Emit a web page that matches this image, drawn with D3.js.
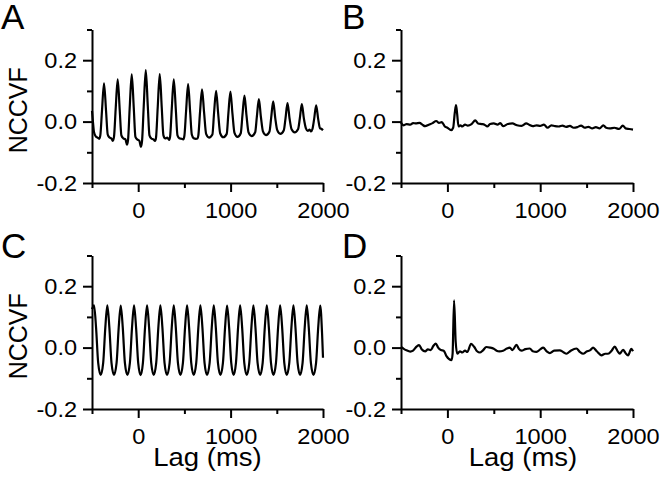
<!DOCTYPE html>
<html>
<head>
<meta charset="utf-8">
<title>NCCVF</title>
<style>
  body { margin: 0; background: #fff; }
  svg { display: block; font-family: "Liberation Sans", Arial, sans-serif; }
</style>
</head>
<body>
<div id="chart"></div>
<script src="https://cdn.jsdelivr.net/npm/d3@7"></script>
<script>

// values: [lag (ms), NCCVF]
const seriesA = [
  [-500, 0.035], [-490, 0.0], [-478, -0.035], [-460, -0.048], [-440, -0.052], [-422, -0.056],
  [-410, -0.045], [-392, 0.035], [-370, 0.125], [-348, 0.035], [-330, -0.042], [-310, -0.052], [-290, -0.055], [-275, -0.063],
  [-262, -0.05], [-244, 0.04], [-222, 0.138], [-200, 0.038], [-182, -0.045], [-160, -0.055], [-138, -0.058], [-122, -0.075],
  [-110, -0.06], [-92, 0.045], [-70, 0.154], [-48, 0.045], [-30, -0.05], [-10, -0.058], [12, -0.062], [30, -0.082],
  [42, -0.062], [60, 0.05], [82, 0.168], [104, 0.05], [122, -0.045], [142, -0.055], [165, -0.058], [182, -0.063],
  [193, -0.052], [211, 0.045], [233, 0.155], [255, 0.045], [273, -0.045], [293, -0.055], [315, -0.052], [335, -0.06],
  [345, -0.05], [363, 0.04], [385, 0.138], [407, 0.04], [425, -0.045], [445, -0.054], [468, -0.056], [488, -0.058],
  [500, -0.046], [518, 0.033], [540, 0.122], [562, 0.033], [580, -0.042], [600, -0.054], [625, -0.056], [643, -0.055],
  [651, -0.045], [669, 0.03], [691, 0.105], [713, 0.03], [735, -0.04], [767, -0.052],
  [803, -0.042], [821, 0.028], [843, 0.1], [865, 0.028], [887, -0.038], [920, -0.051],
  [958, -0.04], [976, 0.027], [998, 0.098], [1020, 0.026], [1042, -0.037], [1074, -0.05],
  [1110, -0.038], [1128, 0.02], [1150, 0.085], [1172, 0.02], [1194, -0.035], [1228, -0.047],
  [1266, -0.035], [1284, 0.015], [1306, 0.073], [1328, 0.015], [1350, -0.032], [1383, -0.044],
  [1421, -0.032], [1439, 0.012], [1461, 0.066], [1483, 0.012], [1505, -0.028], [1538, -0.04],
  [1576, -0.028], [1594, 0.01], [1616, 0.06], [1638, 0.01], [1660, -0.025], [1693, -0.035],
  [1731, -0.024], [1749, 0.01], [1771, 0.057], [1793, 0.01], [1815, -0.022], [1835, -0.03], [1855, -0.026], [1870, -0.032],
  [1886, -0.024], [1904, 0.008], [1926, 0.053], [1948, 0.008], [1968, -0.022], [1985, -0.024], [2000, -0.028]
];

const seriesB = [
  [-500, -0.003], [-470, -0.012], [-440, -0.008], [-400, -0.01], [-370, -0.005], [-340, -0.006],
  [-300, -0.004], [-270, -0.01], [-240, -0.015], [-200, -0.01], [-160, -0.005], [-120, 0.002],
  [-90, -0.004], [-60, -0.002], [-30, -0.015], [0, -0.02], [40, -0.028], [62, -0.02], [80, 0.03],
  [93, 0.054], [105, 0.025], [120, -0.016], [140, -0.012], [160, -0.016], [190, -0.01], [220, -0.013],
  [260, -0.008], [300, 0.004], [330, -0.006], [370, -0.008], [400, -0.01], [430, -0.016], [460, -0.008],
  [500, -0.006], [540, -0.01], [570, -0.005], [600, -0.015], [650, -0.008], [700, -0.006], [750, -0.012],
  [800, -0.014], [850, -0.006], [880, -0.01], [920, -0.015], [960, -0.012], [1000, -0.014], [1040, -0.01],
  [1080, -0.02], [1120, -0.012], [1160, -0.015], [1200, -0.016], [1240, -0.013], [1280, -0.017],
  [1320, -0.014], [1360, -0.02], [1400, -0.018], [1440, -0.013], [1480, -0.02], [1520, -0.017],
  [1560, -0.022], [1600, -0.018], [1640, -0.022], [1680, -0.012], [1710, -0.02], [1750, -0.022],
  [1800, -0.02], [1850, -0.024], [1890, -0.013], [1920, -0.022], [1960, -0.024], [2000, -0.026]
];

const seriesC = [
  [-500, 0.125], [-478, 0.138], [-456, 0.065], [-433, -0.05], [-406, -0.089],
  [-379, -0.05], [-356, 0.065], [-334, 0.138], [-312, 0.065], [-289, -0.05], [-262, -0.089],
  [-234, -0.05], [-211, 0.065], [-189, 0.137], [-167, 0.065], [-144, -0.05], [-117, -0.089],
  [-90, -0.05], [-67, 0.065], [-45, 0.138], [-23, 0.065], [0, -0.05], [26, -0.09],
  [51, -0.05], [74, 0.065], [96, 0.138], [118, 0.065], [141, -0.05], [168, -0.089],
  [195, -0.05], [218, 0.065], [240, 0.138], [262, 0.065], [285, -0.05], [312, -0.089],
  [340, -0.05], [363, 0.065], [385, 0.138], [407, 0.065], [430, -0.05], [457, -0.089],
  [484, -0.05], [507, 0.065], [529, 0.138], [551, 0.065], [574, -0.05], [601, -0.089],
  [628, -0.05], [651, 0.065], [673, 0.138], [695, 0.065], [718, -0.05], [745, -0.089],
  [773, -0.05], [796, 0.065], [818, 0.138], [840, 0.065], [863, -0.05], [890, -0.089],
  [917, -0.05], [940, 0.065], [962, 0.137], [984, 0.065], [1007, -0.05], [1033, -0.089],
  [1058, -0.05], [1081, 0.065], [1103, 0.138], [1125, 0.065], [1148, -0.05], [1175, -0.089],
  [1202, -0.05], [1225, 0.065], [1247, 0.138], [1269, 0.065], [1292, -0.05], [1320, -0.089],
  [1347, -0.05], [1370, 0.065], [1392, 0.138], [1414, 0.065], [1437, -0.05], [1464, -0.089],
  [1491, -0.05], [1514, 0.065], [1536, 0.138], [1558, 0.065], [1581, -0.05], [1608, -0.089],
  [1635, -0.05], [1658, 0.065], [1680, 0.138], [1702, 0.065], [1725, -0.05], [1752, -0.089],
  [1779, -0.05], [1802, 0.065], [1824, 0.138], [1846, 0.065], [1869, -0.05], [1897, -0.089],
  [1925, -0.05], [1948, 0.065], [1970, 0.137], [1990, 0.045], [2000, -0.033]
];

const seriesD = [
  [-500, 0.002], [-470, -0.004], [-440, -0.009], [-400, -0.013], [-370, -0.01], [-330, 0.004],
  [-305, 0.008], [-275, -0.006], [-240, -0.012], [-210, -0.006], [-180, -0.008], [-150, 0.006],
  [-125, 0.013], [-100, 0.0], [-70, -0.008], [-40, -0.01], [-10, -0.028], [45, -0.041], [56, -0.02],
  [72, 0.154], [89, 0.02], [106, -0.02], [135, -0.012], [160, -0.016], [190, -0.01], [215, -0.014],
  [255, 0.012], [290, 0.002], [320, -0.012], [350, -0.016], [380, -0.01], [420, 0.002], [460, 0.0],
  [500, -0.004], [530, -0.01], [560, -0.012], [600, -0.01], [640, -0.003], [673, 0.0], [700, -0.008],
  [745, 0.009], [770, -0.004], [800, -0.01], [840, -0.005], [888, -0.003], [920, -0.012], [960, -0.014],
  [1000, -0.006], [1032, 0.0], [1070, -0.012], [1104, -0.018], [1150, -0.01], [1211, -0.009],
  [1250, -0.015], [1283, -0.02], [1330, -0.01], [1390, -0.003], [1430, -0.015], [1462, -0.02],
  [1500, -0.013], [1540, -0.008], [1570, 0.0], [1610, -0.012], [1660, -0.025], [1700, -0.02],
  [1731, -0.02], [1770, -0.01], [1803, 0.003], [1835, -0.012], [1857, -0.02], [1893, -0.007],
  [1920, -0.018], [1947, -0.025], [1982, -0.004], [2000, -0.012]
];

const panelNames = ['A', 'B', 'C', 'D'];
const xTicks = [0, 1000, 2000];
const xMinor = [-500, 500, 1500];
const yTicks = [-0.2, 0.0, 0.2];
const yMinor = [-0.1, 0.1, 0.3];
const xDomain = [-500, 2000];
const yDomain = [-0.2, 0.3];
const yTitle = 'NCCVF';
const xTitle = 'Lag (ms)';

const svgWidth = 660;
const svgHeight = 480;

// left, right, bottom, top of each plot area (px)
const layout = [
  {series: seriesA, x0: 92, x1: 323, y0: 183, y1: 29.5, lx: 1, ly: 28.5, yLab: true, xLab: false},
  {series: seriesB, x0: 401, x1: 633, y0: 183, y1: 29.5, lx: 342, ly: 28.5, yLab: false, xLab: false},
  {series: seriesC, x0: 92, x1: 323, y0: 409, y1: 255.5, lx: 1, ly: 258, yLab: true, xLab: true},
  {series: seriesD, x0: 401, x1: 633, y0: 409, y1: 255.5, lx: 342, ly: 258, yLab: false, xLab: true}
];

const svg = d3.select('#chart')
  .append('svg')
    .attr('width', svgWidth)
    .attr('height', svgHeight);

function styleAxis(g) {
  g.selectAll('path.domain').attr('stroke', '#000').attr('stroke-width', 2);
  g.selectAll('.tick line').attr('stroke', '#000').attr('stroke-width', 2);
  g.selectAll('.tick text')
    .attr('fill', '#000')
    .attr('transform', 'scale(1.07,1)')
    .style('font-size', '22px');
}

layout.forEach(function(p, i) {
  let x = d3.scaleLinear().domain(xDomain).range([p.x0, p.x1]);
  let y = d3.scaleLinear().domain(yDomain).range([p.y0, p.y1]);
  let g = svg.append('g');

  // minor ticks first, major axes on top
  g.append('g')
    .attr('transform', 'translate(0,' + p.y0 + ')')
    .call(d3.axisBottom(x).tickValues(xMinor).tickSize(5).tickFormat(''))
    .call(styleAxis)
    .call(a => a.select('.domain').remove());

  g.append('g')
    .attr('transform', 'translate(' + p.x0 + ',0)')
    .call(d3.axisLeft(y).tickValues(yMinor).tickSize(5).tickFormat(''))
    .call(styleAxis)
    .call(a => a.select('.domain').remove());

  g.append('g')
    .attr('transform', 'translate(0,' + p.y0 + ')')
    .call(d3.axisBottom(x).tickValues(xTicks).tickSize(9).tickSizeOuter(0).tickPadding(10).tickFormat(d3.format('d')))
    .call(styleAxis);

  g.append('g')
    .attr('transform', 'translate(' + p.x0 + ',0)')
    .call(d3.axisLeft(y).tickValues(yTicks).tickSize(9).tickSizeOuter(0).tickPadding(5).tickFormat(d => d.toFixed(1)))
    .call(styleAxis);

  let line = d3.line()
    .x(d => x(d[0]))
    .y(d => y(d[1]))
    .curve(d3.curveMonotoneX);

  g.append('path')
    .datum(p.series)
    .attr('fill', 'none')
    .attr('stroke', '#000')
    .attr('stroke-width', 2.2)
    .attr('stroke-linejoin', 'round')
    .attr('d', line);

  g.append('text')
    .attr('x', p.lx)
    .attr('y', p.ly)
    .style('font-size', '35px')
    .text(panelNames[i]);

  if (p.yLab) {
    g.append('text')
      .attr('transform', 'translate(26.5,' + ((p.y0 + p.y1) / 2 + 4) + ') rotate(-90)')
      .attr('text-anchor', 'middle')
      .style('font-size', '25px')
      .text(yTitle);
  }
  if (p.xLab) {
    let cx = (p.x0 + p.x1) / 2 + (i === 3 ? 6 : 0);
    g.append('text')
      .attr('transform', 'translate(' + cx + ',466) scale(1.1,1)')
      .attr('text-anchor', 'middle')
      .style('font-size', '25px')
      .text(xTitle);
  }
});

</script>
</body>
</html>
